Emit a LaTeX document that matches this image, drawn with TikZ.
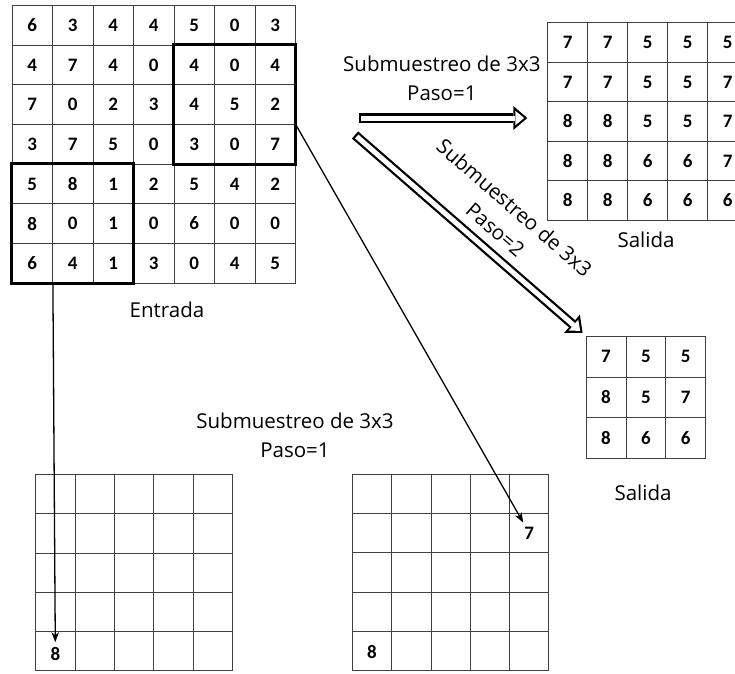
\documentclass[tikz,border=0pt]{standalone}
\usepackage{fontspec}
\setmainfont{Open Sans}
\newfontfamily\digitfont{Carlito}
\usetikzlibrary{arrows.meta,positioning}

\begin{document}
\begin{tikzpicture}[x=1pt,y=-1pt,
        cell/.style={draw=black!75,line width=0.8pt,inner sep=0pt,minimum width=40.5pt,minimum height=39.65pt,font=\digitfont\bfseries\fontsize{19}{19}\selectfont},
        out cell/.style={cell,minimum width=40pt,minimum height=39.5pt},
        digit/.style={font=\digitfont\bfseries\fontsize{19}{19}\selectfont},
        label text/.style={font=\fontsize{20.5}{29}\selectfont,align=center},
        thin arrow/.style={-{Stealth[length=10pt,width=7.5pt,inset=3pt]},line width=1.3pt},
        hollow outer/.style={line width=9.5pt,-{Triangle[length=14pt,width=24pt,line width=0pt]}},
        hollow inner/.style={white,line width=5pt,shorten <=2.25pt,-{Triangle[length=8.8pt,width=14.4pt,line width=0pt]}}]

        \useasboundingbox (0,0) rectangle (735,673);

        \foreach \row [count=\r] in {{6,3,4,4,5,0,3},{4,7,4,0,4,0,4},{7,0,2,3,4,5,2},{3,7,5,0,3,0,7},{5,8,1,2,5,4,2},{8,0,1,0,6,0,0},{6,4,1,3,0,4,5}}
        \foreach \v [count=\c] in \row
        \node[cell] (in-\r-\c) at ({12+40.5*(\c-0.5)},{5.5+39.65*(\r-0.5)}) {\v};

        \draw[line width=3pt] (in-2-5.north west) rectangle (in-4-7.south east);
        \draw[line width=3pt] (in-5-1.north west) rectangle (in-7-3.south east);

        \foreach \row [count=\r] in {{7,7,5,5,5},{7,7,5,5,7},{8,8,5,5,7},{8,8,6,6,7},{8,8,6,6,6}}
        \foreach \v [count=\c] in \row
        \node[out cell] (out-\r-\c) at ({547.7+40*(\c-0.5)},{22.7+39.5*(\r-0.5)}) {\v};

        \foreach \row [count=\r] in {{7,5,5},{8,5,7},{8,6,6}}
        \foreach \v [count=\c] in \row
        \node[out cell,minimum width=39.9pt,minimum height=40.9pt] (sm-\r-\c) at ({586+39.9*(\c-0.5)},{336+40.9*(\r-0.5)}) {\v};

        \foreach \r in {1,...,5}
        \foreach \c in {1,...,5} {
            \node[out cell,minimum width=39.3pt,minimum height=39.3pt] (bl-\r-\c) at ({35.7+39.3*(\c-0.5)},{474.3+39.3*(\r-0.5)}) {};
            \node[out cell,minimum width=39.3pt,minimum height=39.3pt] (br-\r-\c) at ({352.3+39.3*(\c-0.5)},{474+39.3*(\r-0.5)}) {};
        }
        \node[digit] (eight1) at ([yshift=-3pt]bl-5-1.center) {8};
        \node[digit] (eight2) at ([yshift=-1pt]br-5-1.center) {8};
        \node[digit] (seven) at (br-2-5.center) {7};

        \node[label text] (entrada) at (167,310) {Entrada};
        \node[label text] (salida1) at (646,240) {Salida};
        \node[label text] (salida2) at (643,493) {Salida};
        \node[label text] (paso3) at (295,435) {Submuestreo de 3x3\\Paso=1};

        \coordinate (h1) at (359,118);
        \coordinate (h2) at (355,135);
        \draw[hollow outer,shorten >=20pt] (h1) -- (h1 -| out-3-1.west)
        node[label text,pos=0.44,above=9pt] {Submuestreo de 3x3\\Paso=1};
        \draw[hollow inner,shorten >=23.2pt] (h1) -- (h1 -| out-3-1.west);
        \draw[hollow outer,shorten >=4pt] (h2) -- (sm-1-1.north west)
        node[label text,pos=0.55,sloped,above=5pt] {Submuestreo de 3x3\\Paso=2};
        \draw[hollow inner,shorten >=7.2pt] (h2) -- (sm-1-1.north west);

        \draw[thin arrow,shorten >=9pt] (in-7-1.south east) -- (bl-5-1.center);
        \draw[thin arrow,shorten >=12pt] (in-3-7.south east) -- (br-2-5.center);
      \end{tikzpicture}
\end{document}
